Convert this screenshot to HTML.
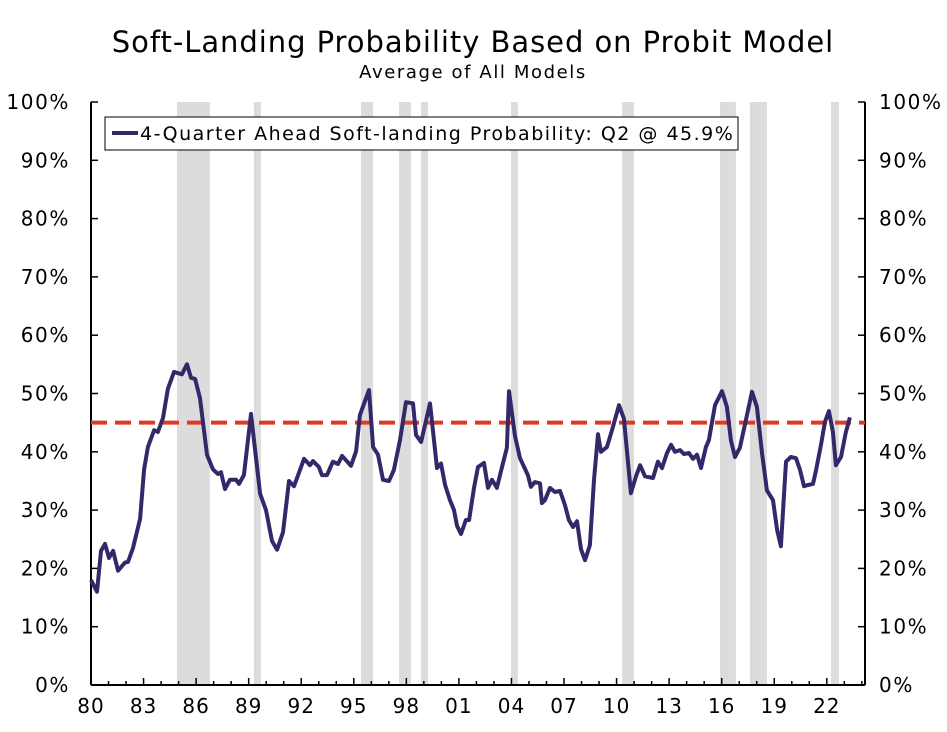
<!DOCTYPE html>
<html><head><meta charset="utf-8"><style>
body{margin:0;background:#fff;}
svg text{font-family:"DejaVu Sans","Liberation Sans",sans-serif;fill:#000;}
</style></head><body>
<svg width="947" height="727">
<text x="473" y="52" font-size="29" letter-spacing="0.95" text-anchor="middle">Soft-Landing Probability Based on Probit Model</text>
<text x="473" y="78" font-size="18" letter-spacing="1.6" text-anchor="middle">Average of All Models</text>
<g id="rec"></g><g id="grid"></g><g id="lines"></g>
<g>
<rect x="105" y="117" width="633" height="33" fill="#fff" stroke="#000" stroke-width="1"/>
<line x1="112" y1="133" x2="138" y2="133" stroke="#33286a" stroke-width="4"/>
<text x="140" y="140" font-size="19" letter-spacing="1.5">4-Quarter Ahead Soft-landing Probability: Q2 @ 45.9%</text>
</g>
</svg>
<script>
const recStart=[1984.91,1989.30,1995.41,1997.58,1998.84,2003.97,2010.31,2015.90,2017.61,2022.24];
const recEnd=[1986.79,1989.70,1996.10,1998.26,1999.24,2004.37,2010.99,2016.81,2018.58,2022.69];
const pX=[91,97,101,105,109,113,118,125,128,133,140,144,148,154,158,163,168,174,182,187,191,195,200,207,213,218,221,225,230,236,239,244,251,260,266,272,277,283,289,294,300,304,310,313,319,322,327,333,338,342,351,356,360,369,373,378,383,389,394,400,406,413,416,421,430,437,441,445,450,454,457,461,466,469,474,478,484,488,492,497,501,507,509,515,520,528,531,535,540,542,545,550,555,560,565,569,573,577,581,585,590,594,598,601,607,612,619,624,631,636,640,645,653,658,662,667,671,675,680,684,689,693,697,701,706,709,715,722,727,731,735,740,746,752,757,762,767,773,777,781,786,791,796,800,804,808,813,816,821,825,829,833,836,841,846,850];
const dates=pX.map(x=>+(1980+(x-91)/17.52).toFixed(2));
const values=[18.0,16.0,23,24.2,21.8,23,19.6,21,21.1,23.5,28.5,37,40.8,43.7,43.4,45.8,50.8,53.7,53.3,55,52.7,52.5,49.2,39.5,37,36.2,36.5,33.6,35.2,35.2,34.5,36,46.5,32.8,30,24.7,23.2,26.2,35,34.1,36.9,38.8,37.7,38.4,37.4,36,36,38.3,37.9,39.3,37.6,40.1,46.3,50.6,40.8,39.5,35.2,35,36.9,42,48.5,48.3,42.9,41.7,48.3,37.2,38,34.3,31.7,30,27.3,25.9,28.3,28.3,33.8,37.4,38.1,33.8,35.2,33.8,36.7,40.7,50.4,42.7,38.9,36,34,34.8,34.6,31.2,31.7,33.8,33.1,33.3,30.9,28.3,27.1,28.1,23.3,21.4,24,35.2,43,40,40.8,43.7,48,45.7,32.9,35.8,37.7,35.8,35.5,38.3,37.2,39.8,41.2,40,40.3,39.6,39.8,38.8,39.5,37.2,40.8,42,48,50.4,47.7,41.9,39.1,40.7,45.5,50.3,47.7,39.8,33.4,31.7,26.6,23.8,38.3,39.1,38.9,36.9,34.1,34.3,34.5,36.7,41.2,45.1,47,43.4,37.7,39.1,43.4,45.9];
const yTicks=[0,10,20,30,40,50,60,70,80,90,100];
const xTickLabels=["80","83","86","89","92","95","98","01","04","07","10","13","16","19","22"];
const refLevel=45;
const NS="http://www.w3.org/2000/svg";
const X0=91,X1=865,Y0=685,Y1=102,T0=1980,T1=2024.18;
const xs=t=>X0+(t-T0)/(T1-T0)*(X1-X0);
const ys=v=>Y0-v/100*(Y0-Y1);
function mk(tag,at,parent){const e=document.createElementNS(NS,tag);for(const k in at)e.setAttribute(k,at[k]);document.querySelector(parent).appendChild(e);return e;}
recStart.forEach((s,i)=>{const r=mk('rect',{x:xs(s),y:Y1,width:xs(recEnd[i])-xs(s),height:Y0-Y1,fill:'#dcdcdc'},'#rec');

});
const g='#grid';
let a=mk('line',{x1:X0,y1:Y1,x2:X0,y2:Y0,stroke:'#000','stroke-width':2},g);


a=mk('line',{x1:X1,y1:Y1,x2:X1,y2:Y0,stroke:'#000','stroke-width':2},g);


a=mk('line',{x1:X0,y1:Y0,x2:X1,y2:Y0,stroke:'#000','stroke-width':2},g);


yTicks.forEach(v=>{const y=ys(v);
mk('line',{x1:X0,y1:y,x2:X0+7,y2:y,stroke:'#000','stroke-width':1.5},g);
mk('line',{x1:X1-7,y1:y,x2:X1,y2:y,stroke:'#000','stroke-width':1.5},g);
let t=mk('text',{x:70,y:y+7,'font-size':20,'letter-spacing':1.6,'text-anchor':'end'},g);t.textContent=v+'%';


t=mk('text',{x:879,y:y+7,'font-size':20,'letter-spacing':1.6},g);t.textContent=v+'%';

});
for(let yr=1980;yr<=2024;yr++){const x=xs(yr);const big=(yr-1980)%3==0;
mk('line',{x1:x,y1:Y0,x2:x,y2:Y0-(big?7:4),stroke:'#000','stroke-width':1.5},g);}
xTickLabels.forEach((l,i)=>{const t=mk('text',{x:xs(1980+3*i),y:713,'font-size':20,'letter-spacing':1,'text-anchor':'middle'},g);t.textContent=l;

});
const ref=mk('line',{x1:X0,y1:ys(refLevel),x2:X1,y2:ys(refLevel),stroke:'#dc3c22','stroke-width':4,'stroke-dasharray':'16,8'},'#lines');


const d=dates.map((t,i)=>(i?'L':'M')+xs(t).toFixed(1)+','+ys(values[i]).toFixed(1)).join('');
const p=mk('path',{d:d,fill:'none',stroke:'#33286a','stroke-width':4,'stroke-linejoin':'round'},'#lines');


</script>
</body></html>
